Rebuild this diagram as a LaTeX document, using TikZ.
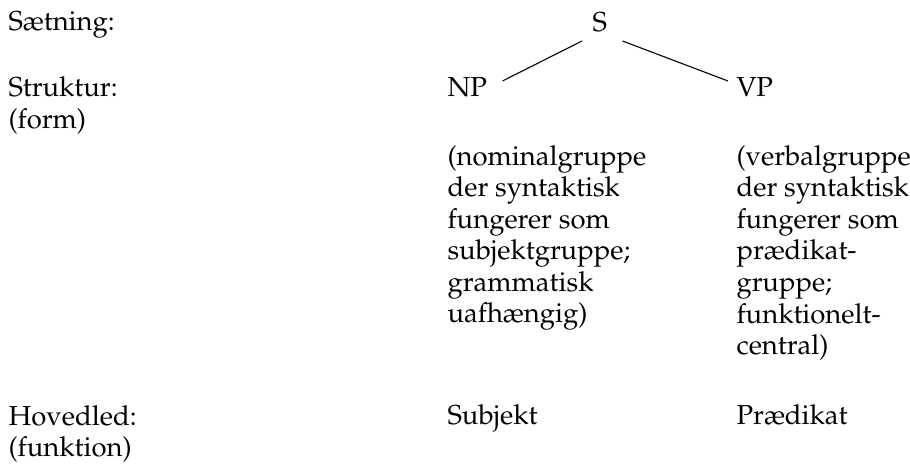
\documentclass[tikz,border=0pt]{standalone}
\IfFileExists{mathpazo.sty}{\usepackage[T1]{fontenc}\usepackage{mathpazo}}{%
  \IfFileExists{palatino.sty}{\usepackage[T1]{fontenc}\usepackage{palatino}}{%
    \usepackage{fontspec}\setmainfont{Liberation Serif}}}
\begin{document}
\begin{tikzpicture}[x=0.364pt,y=-0.364pt,
  lbl/.style={anchor=base west, inner sep=0pt, align=left, font=\fontsize{10}{11.5}\selectfont},
  branch/.style={line width=0.4pt, black}]
\useasboundingbox (0,0) rectangle (910,464);
% left labels (multi-line nodes are placed by the baseline of their last line)
\node[lbl] (saet) at (8,31) {S\ae tning:};
\node[lbl] (strk) at (8,128.6) {Struktur:\\(form)};
\node[lbl] (hoved) at (8,456.6) {Hovedled:\\(funktion)};
% tree
\node[lbl] (S) at (592,32) {S};
\node[lbl] (NP) at (447,97) {NP};
\node[lbl] (VP) at (736,97) {VP};
\draw[branch] ([shift={(15,-16)}]NP.base east) -- ([shift={(-10,9)}]S.base west);
\draw[branch] ([shift={(15,9)}]S.base east) -- ([shift={(-8,-16)}]VP.base west);
% descriptions
\node[lbl] (npdesc) at (447,323) {(nominalgruppe\\der syntaktisk\\fungerer som\\subjektgruppe;\\grammatisk\\uafh\ae ngig)};
\node[lbl] (vpdesc) at (736,354.6) {(verbalgruppe\\der syntaktisk\\fungerer som\\pr\ae dikat-\\gruppe;\\funktionelt-\\central)};
% functions
\node[lbl] (subj) at (447,425) {Subjekt};
\node[lbl] (pred) at (736,425) {Pr\ae dikat};
\end{tikzpicture}
\end{document}
